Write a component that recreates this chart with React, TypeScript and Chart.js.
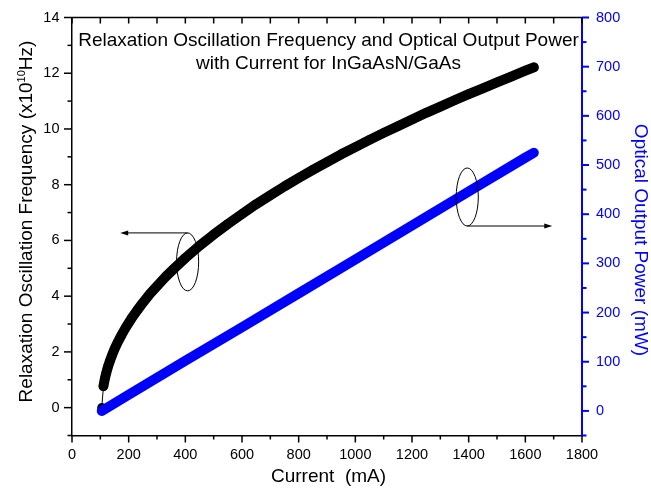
import React, { useEffect, useRef } from 'react';
import { Chart, registerables } from 'chart.js';

Chart.register(...registerables);

// Relaxation oscillation frequency (x10^10 Hz) against drive current (mA)
const currentMA = [105, 111, 116, 121, 127, 134, 142, 150, 160, 175, 190, 210, 230, 250, 275, 300, 330, 360, 400, 450, 500, 550, 600, 650, 700, 750, 800, 850, 900, 950, 1000, 1050, 1100, 1150, 1200, 1250, 1300, 1350, 1400, 1450, 1500, 1550, 1600, 1630];
const relaxFreq = [0, 0.77, 1.04, 1.25, 1.47, 1.68, 1.9, 2.1, 2.32, 2.61, 2.88, 3.2, 3.49, 3.76, 4.08, 4.36, 4.69, 4.99, 5.37, 5.81, 6.21, 6.59, 6.95, 7.3, 7.62, 7.94, 8.24, 8.53, 8.81, 9.09, 9.35, 9.61, 9.86, 10.1, 10.34, 10.58, 10.8, 11.03, 11.25, 11.46, 11.67, 11.88, 12.09, 12.21];

// Optical output power (mW) against drive current (mA)
const powerCurrentMA = [105, 200, 400, 600, 800, 1000, 1200, 1400, 1600, 1630];
const opticalPower = [0, 33, 102, 170, 239, 308, 377, 446, 515, 525];

// Labelled (major) tick values; the other ticks are unlabelled minor ticks
const currentTickLabels = [0, 200, 400, 600, 800, 1000, 1200, 1400, 1600, 1800];
const freqTickLabels = [0, 2, 4, 6, 8, 10, 12, 14];
const powerTickLabels = [0, 100, 200, 300, 400, 500, 600, 700, 800];

// Ellipse markers with arrows pointing to the axis each curve belongs to (data units)
const freqMarker = [408, 5.23, 39, 1.04, 170]; // current, freq, half-width mA, half-height, arrow tip mA
const powerMarker = [1395, 435, 39, 59, 1695]; // current, power, half-width mA, half-height mW, arrow tip mA

const FONT = '"Liberation Sans", Arial, Helvetica, sans-serif';
const BLUE = '#0000FF';

// Fix a scale's thickness and drop the extra label padding Chart.js reserves
const fixSize = (key: 'width' | 'height', size: number) => (s: any) => {
  s[key] = size;
  s.paddingTop = 0;
  s.paddingBottom = 0;
  s.paddingLeft = 0;
  s.paddingRight = 0;
};

const decorPlugin = {
  id: 'decor',
  afterDraw(chart: any) {
    const { ctx, chartArea: a, scales } = chart;
    const xs = scales.x;
    const ys = scales.y;
    const ps = scales.y2;
    ctx.save();

    const seg = (x1: number, y1: number, x2: number, y2: number) => {
      ctx.beginPath();
      ctx.moveTo(x1, y1);
      ctx.lineTo(x2, y2);
      ctx.stroke();
    };

    // top frame line
    ctx.strokeStyle = '#000';
    ctx.lineWidth = 1.5;
    seg(a.left, a.top, a.right, a.top);

    // bottom (outward) and top (inward) ticks
    xs.ticks.forEach((t: any) => {
      const px = xs.getPixelForValue(t.value);
      const major = currentTickLabels.includes(t.value);
      seg(px, a.bottom, px, a.bottom + (major ? 7 : 4));
      seg(px, a.top, px, a.top + 6);
    });

    // left ticks
    ys.ticks.forEach((t: any) => {
      const py = ys.getPixelForValue(t.value);
      const major = freqTickLabels.includes(t.value);
      seg(a.left, py, a.left - (major ? 8 : 4.5), py);
    });

    // right ticks
    ctx.strokeStyle = BLUE;
    ctx.lineWidth = 2;
    ps.ticks.forEach((t: any) => {
      const py = ps.getPixelForValue(t.value);
      const major = powerTickLabels.includes(t.value);
      seg(a.right, py, a.right + (major ? 7 : 4.5), py);
    });

    // ellipse markers and arrows
    ctx.strokeStyle = '#000';
    ctx.fillStyle = '#000';
    ctx.lineWidth = 1;
    const arrowHead = (tipX: number, yy: number, dir: number) => {
      ctx.beginPath();
      ctx.moveTo(tipX, yy);
      ctx.lineTo(tipX - dir * 8, yy - 2.5);
      ctx.lineTo(tipX - dir * 8, yy + 2.5);
      ctx.closePath();
      ctx.fill();
    };
    {
      const [c, f, hw, hh, tip] = freqMarker;
      const cx = xs.getPixelForValue(c);
      const cy = ys.getPixelForValue(f);
      const rx = xs.getPixelForValue(c + hw) - cx;
      const ry = ys.getPixelForValue(f - hh) - cy;
      ctx.beginPath();
      ctx.ellipse(cx, cy, rx, ry, 0, 0, Math.PI * 2);
      ctx.stroke();
      const tx = xs.getPixelForValue(tip);
      seg(cx, cy - ry, tx + 6, cy - ry);
      arrowHead(tx, cy - ry, -1);
    }
    {
      const [c, p, hw, hh, tip] = powerMarker;
      const cx = xs.getPixelForValue(c);
      const cy = ps.getPixelForValue(p);
      const rx = xs.getPixelForValue(c + hw) - cx;
      const ry = ps.getPixelForValue(p - hh) - cy;
      ctx.beginPath();
      ctx.ellipse(cx, cy, rx, ry, 0, 0, Math.PI * 2);
      ctx.stroke();
      const tx = xs.getPixelForValue(tip);
      seg(cx, cy + ry, tx - 6, cy + ry);
      arrowHead(tx, cy + ry, 1);
    }

    // title inside the plot
    ctx.fillStyle = '#000';
    ctx.font = `19px ${FONT}`;
    ctx.textAlign = 'center';
    ctx.textBaseline = 'alphabetic';
    const tcx = (a.left + a.right) / 2 + 1.5;
    ctx.fillText('Relaxation Oscillation Frequency and Optical Output Power', tcx, 45.5);
    ctx.fillText('with Current for InGaAsN/GaAs', tcx, 68.5);

    // x-axis title
    ctx.fillText('Current  (mA)', tcx, 482);

    // left axis title with superscript exponent
    ctx.save();
    ctx.translate(32, 221.5);
    ctx.rotate(-Math.PI / 2);
    ctx.textAlign = 'left';
    const p1 = 'Relaxation Oscillation Frequency (x10';
    const p2 = '10';
    const p3 = 'Hz)';
    ctx.font = `19px ${FONT}`;
    const w1 = ctx.measureText(p1).width;
    const w3 = ctx.measureText(p3).width;
    ctx.font = `11px ${FONT}`;
    const w2 = ctx.measureText(p2).width;
    const start = -(w1 + w2 + w3) / 2;
    ctx.font = `19px ${FONT}`;
    ctx.fillText(p1, start, 0);
    ctx.fillText(p3, start + w1 + w2, 0);
    ctx.font = `11px ${FONT}`;
    ctx.fillText(p2, start + w1, -7.5);
    ctx.restore();

    // right axis title
    ctx.save();
    ctx.translate(635, 240);
    ctx.rotate(Math.PI / 2);
    ctx.fillStyle = BLUE;
    ctx.font = `19px ${FONT}`;
    ctx.textAlign = 'center';
    ctx.fillText('Optical Output Power (mW)', 0, 0);
    ctx.restore();

    ctx.restore();
  },
};

export default function App() {
  const canvasRef = useRef<HTMLCanvasElement | null>(null);

  useEffect(() => {
    if (!canvasRef.current) return;
    const freqPoints = currentMA.map((c, i) => ({ x: c, y: relaxFreq[i] }));
    const powerPoints = powerCurrentMA.map((c, i) => ({ x: c, y: opticalPower[i] }));

    const chart = new Chart(canvasRef.current, {
      type: 'line',
      data: {
        datasets: [
          {
            label: 'Optical Output Power',
            data: powerPoints,
            yAxisID: 'y2',
            borderColor: BLUE,
            backgroundColor: BLUE,
            borderWidth: 10,
            borderCapStyle: 'round',
            borderJoinStyle: 'round',
            pointRadius: 0,
            tension: 0,
            fill: false,
          },
          {
            label: 'Relaxation Oscillation Frequency',
            data: freqPoints,
            yAxisID: 'y',
            borderColor: '#000',
            backgroundColor: '#000',
            borderWidth: 10,
            borderCapStyle: 'round',
            borderJoinStyle: 'round',
            pointRadius: 4.6,
            pointBorderWidth: 0,
            tension: 0,
            fill: false,
            segment: {
              borderWidth: (c: any) => (c.p0DataIndex === 0 ? 1 : 10),
            },
          },
        ],
      },
      plugins: [decorPlugin],
      options: {
        animation: false,
        responsive: true,
        maintainAspectRatio: false,
        events: [],
        layout: { padding: { top: 17.5, left: 0, right: 0, bottom: 0 } },
        plugins: {
          legend: { display: false },
          tooltip: { enabled: false },
          title: { display: false },
        },
        scales: {
          x: {
            type: 'linear',
            position: 'bottom',
            min: 0,
            max: 1800,
            afterFit: fixSize('height', 52.5),
            grid: { display: false, drawTicks: false },
            border: { display: true, color: '#000', width: 1.5 },
            ticks: {
              stepSize: 100,
              autoSkip: false,
              maxRotation: 0,
              padding: 11,
              color: '#000',
              font: { family: FONT, size: 14.5 },
              callback: (v: any) => (currentTickLabels.includes(v) ? String(v) : ''),
            },
          },
          y: {
            type: 'linear',
            position: 'left',
            min: -1,
            max: 14,
            afterFit: fixSize('width', 72),
            grid: { display: false, drawTicks: false },
            border: { display: true, color: '#000', width: 1.5 },
            ticks: {
              stepSize: 1,
              autoSkip: false,
              padding: 12.5,
              color: '#000',
              font: { family: FONT, size: 14.5 },
              callback: (v: any) => (freqTickLabels.includes(v) ? String(v) : ''),
            },
          },
          y2: {
            type: 'linear',
            position: 'right',
            min: -50,
            max: 800,
            afterFit: fixSize('width', 69),
            grid: { display: false, drawTicks: false },
            border: { display: true, color: BLUE, width: 2 },
            ticks: {
              stepSize: 50,
              autoSkip: false,
              padding: 14,
              color: BLUE,
              font: { family: FONT, size: 14.5 },
              callback: (v: any) => (powerTickLabels.includes(v) ? String(v) : ''),
            },
          },
        },
      },
    } as any);

    return () => chart.destroy();
  }, []);

  return (
    <div style={{ position: 'fixed', left: 0, top: 0, width: 651, height: 488, background: '#fff' }}>
      <canvas ref={canvasRef} />
    </div>
  );
}
